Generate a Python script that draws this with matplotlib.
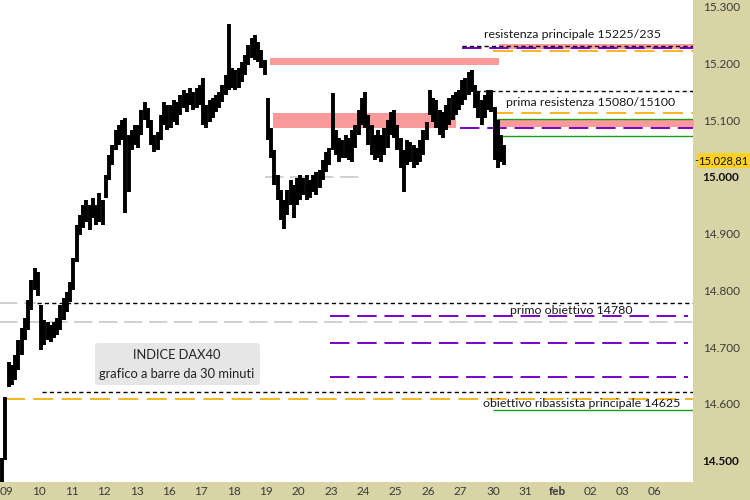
import matplotlib
matplotlib.use("Agg")
import matplotlib.pyplot as plt
import matplotlib.patches as mpatches
import numpy as np

# ---- data (DAX40, 30-minute bars) ----
day_labels = ["09", "10", "11", "12", "13", "16", "17", "18", "19", "20", "23",
              "24", "25", "26", "27", "30", "31", "feb", "02", "03", "06"]

# ten bars per session; the first two bars are the tail of the previous session
bar_highs = [
    14505, 14612,
    14674, 14668, 14686, 14712, 14734, 14751, 14783, 14818, 14839, 14832,
    14774, 14748, 14744, 14739, 14744, 14751, 14774, 14786, 14797, 14815,
    14857, 14915, 14933, 14951, 14960, 14951, 14963, 14951, 14972, 14960,
    15004, 15039, 15057, 15083, 15092, 15101, 15104, 15074, 15083, 15092,
    15092, 15118, 15132, 15122, 15101, 15074, 15079, 15109, 15132, 15127,
    15127, 15136, 15132, 15145, 15154, 15148, 15157, 15150, 15157, 15162,
    15175, 15127, 15136, 15140, 15145, 15150, 15162, 15180, 15270, 15192,
    15189, 15192, 15203, 15215, 15233, 15245, 15251, 15238, 15224, 15206,
    15139, 15086, 15048, 15004, 14977, 14960, 14977, 14995, 14986, 14998,
    15004, 14998, 15004, 14995, 15004, 15009, 15012, 15030, 15044, 15051,
    15148, 15083, 15069, 15065, 15074, 15069, 15083, 15092, 15118, 15139,
    15150, 15109, 15092, 15074, 15083, 15074, 15087, 15101, 15115, 15118,
    15092, 15069, 15048, 15065, 15062, 15056, 15051, 15065, 15083, 15097,
    15154, 15140, 15136, 15118, 15115, 15127, 15140, 15145, 15150, 15154,
    15171, 15175, 15185, 15189, 15162, 15150, 15136, 15145, 15154, 15154,
    15124, 15101, 15074, 15056,
]
bar_lows = [
    14440, 14500,
    14630, 14633, 14642, 14660, 14686, 14712, 14730, 14765, 14800, 14790,
    14695, 14704, 14712, 14709, 14716, 14721, 14730, 14748, 14762, 14780,
    14801, 14850, 14898, 14910, 14921, 14907, 14928, 14915, 14921, 14915,
    14963, 14995, 15021, 15048, 15057, 15065, 14937, 14974, 15048, 15057,
    15051, 15074, 15101, 15086, 15057, 15044, 15048, 15065, 15092, 15083,
    15086, 15097, 15092, 15109, 15122, 15115, 15127, 15118, 15122, 15127,
    15092, 15086, 15097, 15104, 15115, 15122, 15132, 15145, 15154, 15157,
    15154, 15157, 15168, 15180, 15198, 15210, 15206, 15203, 15192, 15180,
    15065, 15034, 14986, 14960, 14924, 14908, 14933, 14951, 14928, 14951,
    14960, 14968, 14960, 14963, 14974, 14968, 14981, 14995, 15009, 15021,
    15048, 15039, 15027, 15034, 15034, 15030, 15027, 15051, 15074, 15092,
    15087, 15057, 15039, 15030, 15034, 15027, 15039, 15051, 15074, 15069,
    15048, 15016, 14974, 15021, 15027, 15016, 15021, 15027, 15039, 15065,
    15109, 15097, 15087, 15074, 15069, 15083, 15092, 15101, 15109, 15118,
    15127, 15136, 15145, 15150, 15122, 15104, 15092, 15104, 15118, 15115,
    15030, 15016, 15027, 15021,
]
last_price = 15028.81

# horizontal levels (price, first session index where the line starts)
black_levels = [15231, 15151, 14777, 14620]
black_from = [14.04, 14.47, 0.93, 1.08]
purple_levels = [15227, 15086, 14755, 14708, 14647]
purple_from = [14.04, 13.98, 9.97, 9.97, 9.97]
purple_to = [21.2, 21.2, 21.02, 21.02, 21.02]
orange_levels = [15222, 15112, 14609]
orange_from = [15.0, 15.0, -0.06]
green_levels = [15103, 15073, 14589]
green_from = [15.0, 15.0, 15.0]
grey_levels = [15000, 14777, 14745]
grey_from = [7.96, -0.25, -0.25]
grey_to = [11.05, 0.9, 21.2]
# resistance zones: low, high, from, to
zone_low = [15197, 15087, 15225, 15088]
zone_high = [15209, 15112, 15235, 15100]
zone_from = [8.12, 8.2, 15.2, 15.2]
zone_to = [15.2, 13.86, 21.2, 21.2]

notes = ["resistenza principale 15225/235", "prima resistenza 15080/15100",
         "primo obiettivo 14780", "obiettivo ribassista principale 14625"]
note_x = [17.44, 18.0, 17.4, 17.75]
note_y = [15251, 15131, 14765, 14600]

# ---- style ----
panel = "#d8d4a6"
tick_col = "#3a3a3a"
plt.rcParams["font.family"] = ["Lato", "DejaVu Sans"]

fig = plt.figure(figsize=(7.5, 5), dpi=100)
fig.patch.set_facecolor(panel)
ax = fig.add_axes([0, 18 / 500, 693 / 750, 482 / 500])
ax.set_facecolor("white")
for s in ax.spines.values():
    s.set_visible(False)

x0, x1 = -7 / 32.4, (693 - 7) / 32.4
ax.set_xlim(x0, x1)
ax.set_ylim(14462, 15312)

# zones
for lo, hi, a, b in zip(zone_low, zone_high, zone_from, zone_to):
    ax.fill_between([a, b], lo, hi, color="#fa9a9a", lw=0, zorder=1)

ax.hlines(grey_levels, grey_from, grey_to, colors="#c8c8c8", lw=1.2,
          linestyles=(0, (11, 4)), zorder=2)
ax.hlines(orange_levels, orange_from, x1, colors="#f5a800", lw=1.2,
          linestyles=(0, (12, 5)), zorder=2)
ax.hlines(green_levels, green_from, x1, colors="#1f9a1f", lw=1.0, zorder=2)
ax.hlines(purple_levels, purple_from, purple_to, colors="#7a00cc", lw=1.4,
          linestyles=(0, (10, 4)), zorder=2)
ax.hlines(black_levels, black_from, x1, colors="black", lw=1.0,
          linestyles=(0, (3, 2.3)), zorder=2)

# price bars
bar_x = -0.15 + 0.1 * np.arange(len(bar_highs))
ax.vlines(bar_x, bar_lows, bar_highs, colors="black", lw=2.8, zorder=3)

for t, x, y in zip(notes, note_x, note_y):
    ax.text(x, y, t, ha="center", va="center", fontsize=8.9, color="#1a1a1a", zorder=4)

# title box
box = mpatches.FancyBboxPatch((95 / 693, 97 / 482), 165 / 693, 42 / 482,
                              boxstyle="round,pad=0,rounding_size=0.006",
                              transform=ax.transAxes, facecolor="#e6e6e6",
                              edgecolor="none", zorder=4)
ax.add_patch(box)
ax.text(177 / 693, 127 / 482, "INDICE DAX40", transform=ax.transAxes,
        ha="center", va="center", fontsize=9.3, color="#222222", zorder=5)
ax.text(177 / 693, 108 / 482, "grafico a barre da 30 minuti", transform=ax.transAxes,
        ha="center", va="center", fontsize=9.3, color="#222222", zorder=5)

# axes ticks
yt = [14500, 14600, 14700, 14800, 14900, 15000, 15100, 15200, 15300]
ax.yaxis.tick_right()
ax.set_yticks(yt)
ax.set_yticklabels([f"{v:,.0f}".replace(",", ".") for v in yt])
ax.tick_params(axis="y", length=0, pad=7, labelsize=8.5, labelcolor=tick_col)
for lab, v in zip(ax.get_yticklabels(), yt):
    if v in (15000, 14500):
        lab.set_fontweight("bold")
        lab.set_color("#111111")

ax.set_xticks(np.arange(len(day_labels)))
ax.set_xticklabels(day_labels)
ax.tick_params(axis="x", length=0, pad=3, labelsize=8.5, labelcolor=tick_col)
for lab, t in zip(ax.get_xticklabels(), day_labels):
    if t == "feb":
        lab.set_fontweight("bold")

# last price tag
price_txt = f"{last_price:,.2f}".replace(",", "X").replace(".", ",").replace("X", ".")
ax.annotate(price_txt, xy=(1.0, last_price), xycoords=("axes fraction", "data"),
            xytext=(4, 0), textcoords="offset points", ha="left", va="center",
            fontsize=8, color="#111111",
            bbox=dict(boxstyle="square,pad=0.15", facecolor="#ffd21f", edgecolor="none"))
ax.annotate("-", xy=(1.0, last_price), xycoords=("axes fraction", "data"),
            xytext=(1, 0), textcoords="offset points", ha="left", va="center",
            fontsize=8, color="#111111")

fig.savefig("out.png", dpi=100, facecolor=panel)
